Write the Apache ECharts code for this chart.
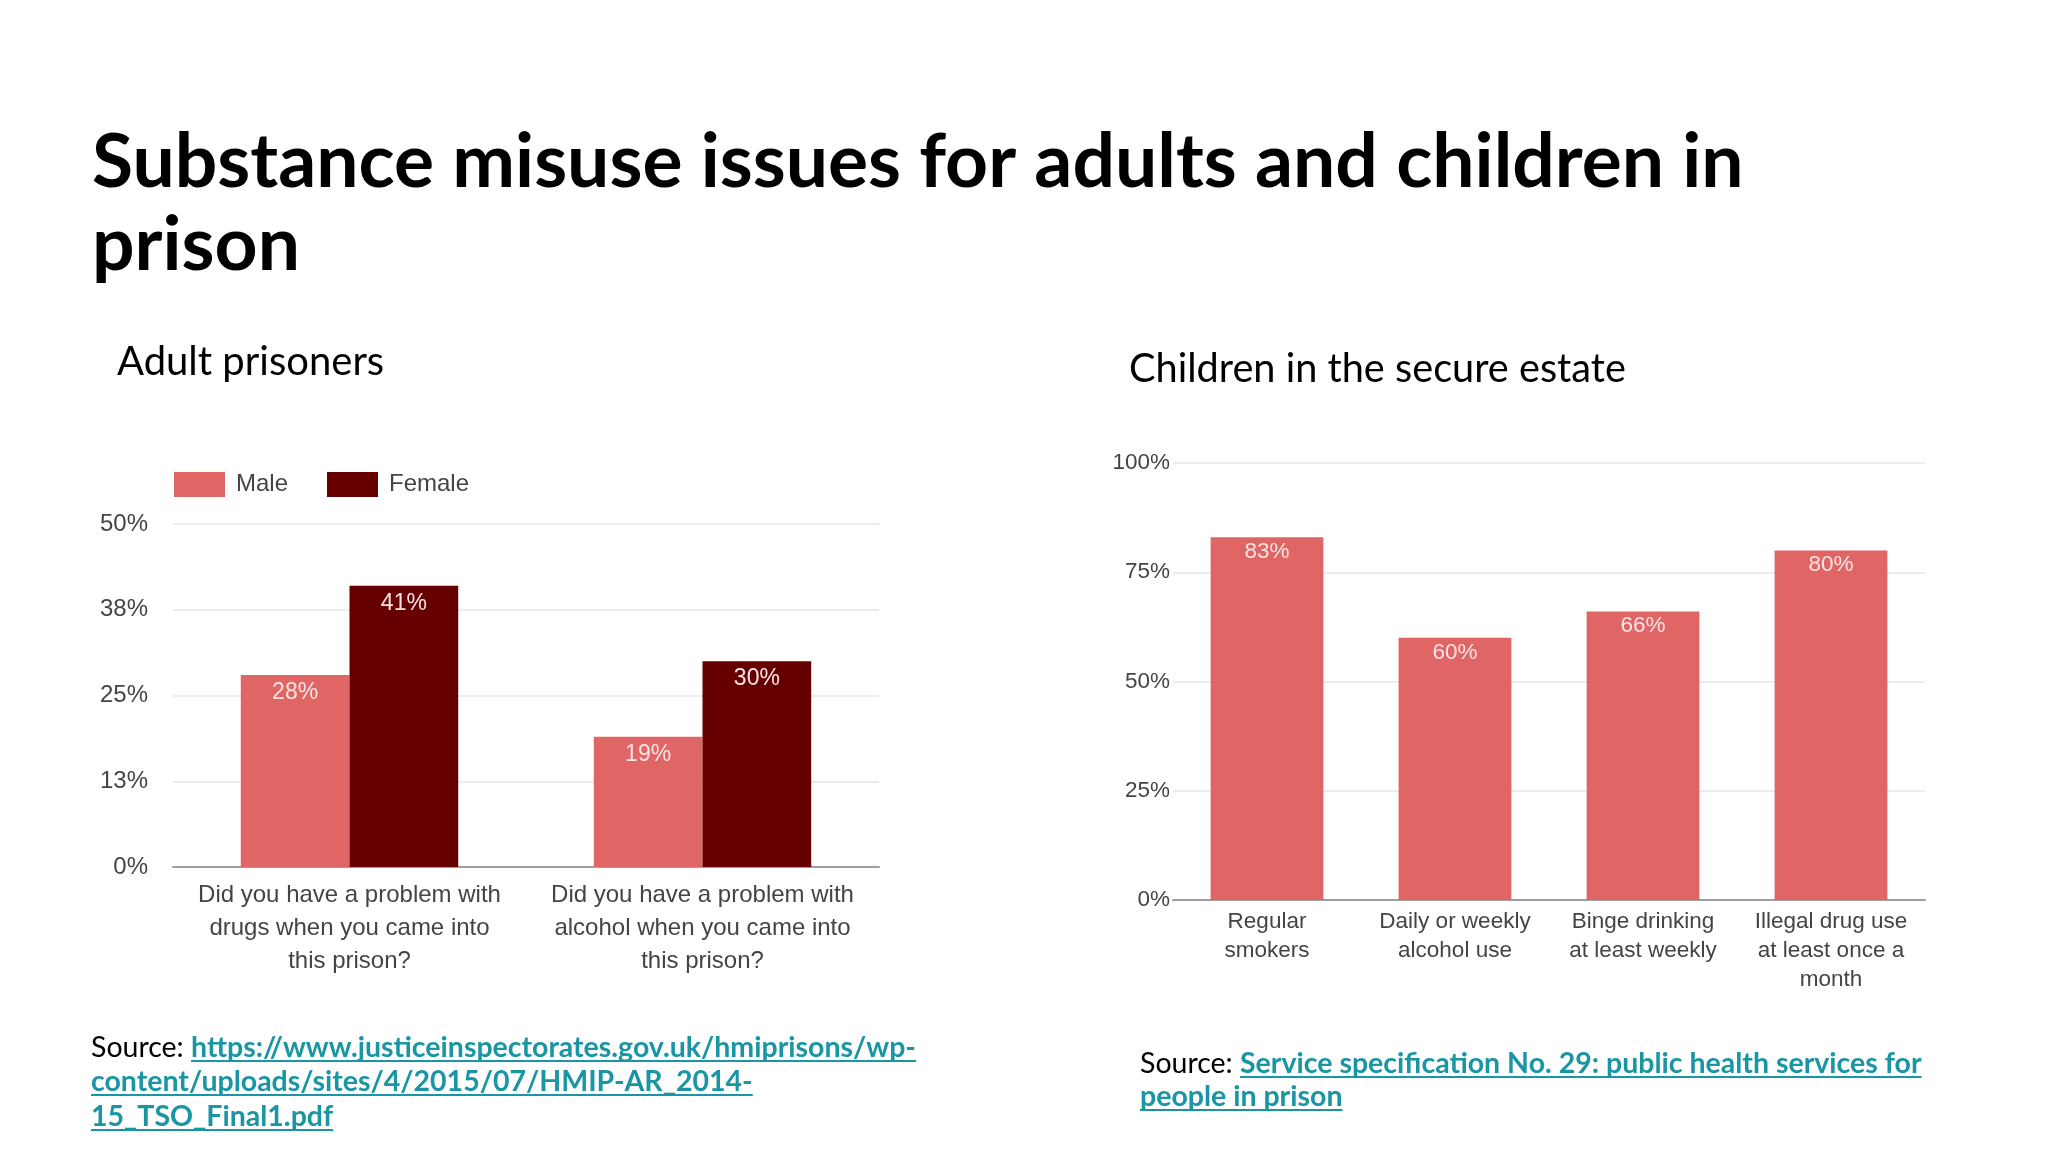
<!DOCTYPE html>
<html>
<head>
<meta charset="utf-8">
<script src="https://cdn.jsdelivr.net/npm/echarts@6/dist/echarts.min.js"></script>
<style>
html,body{margin:0;padding:0;background:#fff;}
#main{width:2048px;height:1152px;}
</style>
</head>
<body>
<div id="main"></div>
<script>
// ---- Data ----
const adultCategories = [
  'Did you have a problem with\ndrugs when you came into\nthis prison?',
  'Did you have a problem with\nalcohol when you came into\nthis prison?'
];
const maleValues = [28, 19];
const femaleValues = [41, 30];
const seriesNames = ['Male', 'Female'];

const childCategories = [
  'Regular\nsmokers',
  'Daily or weekly\nalcohol use',
  'Binge drinking\nat least weekly',
  'Illegal drug use\nat least once a\nmonth'
];
const childValues = [83, 60, 66, 80];

const titleLines = ['Substance misuse issues for adults and children in', 'prison'];
const leftSubtitle = 'Adult prisoners';
const rightSubtitle = 'Children in the secure estate';
const leftSourceLines = [
  'https://www.justiceinspectorates.gov.uk/hmiprisons/wp-',
  'content/uploads/sites/4/2015/07/HMIP-AR_2014-',
  '15_TSO_Final1.pdf'
];
const rightSourceLines = [
  'Service specification No. 29: public health services for',
  'people in prison'
];

// ---- Styling ----
const MALE = '#e06666', FEMALE = '#660000';
const LINK = '#1995a3';
const labelColor = '#444444';
const chartFont = '"Liberation Sans", Arial, sans-serif';

const cv = document.createElement('canvas');
const ctx = cv.getContext('2d');
function tw(text, font) { ctx.font = font; return ctx.measureText(text).width; }

const srcSize = 28.5;
const srcFont = srcSize + 'px Lato';
const linkFont = 'bold ' + srcSize + 'px Lato';

function sourceBlock(x0, yMids, lines) {
  const els = [];
  const prefix = 'Source: ';
  const pw = tw(prefix, srcFont);
  lines.forEach((ln, i) => {
    const y = yMids[i];
    let lx = x0;
    if (i === 0) {
      els.push({type:'text', style:{text:prefix, x:x0, y:y, font:srcFont, fill:'#000', align:'left', verticalAlign:'middle'}});
      lx = x0 + pw;
    }
    els.push({type:'text', style:{text:ln, x:lx, y:y, font:linkFont, fill:LINK, align:'left', verticalAlign:'middle'}});
    const w = tw(ln, linkFont);
    els.push({type:'rect', shape:{x:lx, y:y + 12, width:w, height:2}, style:{fill:LINK}});
  });
  return els;
}

const graphics = [
  {type:'text', style:{text:titleLines[0], x:92, y:163, font:'bold 75px Lato', fill:'#000', align:'left', verticalAlign:'middle'}},
  {type:'text', style:{text:titleLines[1], x:92, y:246, font:'bold 75px Lato', fill:'#000', align:'left', verticalAlign:'middle'}},
  {type:'text', style:{text:leftSubtitle, x:117, y:362, font:'40px Lato', fill:'#000', align:'left', verticalAlign:'middle'}},
  {type:'text', style:{text:rightSubtitle, x:1129, y:369, font:'39.7px Lato', fill:'#000', align:'left', verticalAlign:'middle'}}
].concat(
  sourceBlock(91, [1048, 1082, 1117], leftSourceLines),
  sourceBlock(1140, [1064, 1097], rightSourceLines)
);

const axisLabelBase = {color: labelColor, fontFamily: chartFont};
const legendText = {color:labelColor, fontSize:24, fontFamily:chartFont, padding:[0,0,0,6]};
const barLabel = (size, dist) => ({show:true, position:'insideTop', distance:dist, color:'#fde4e4', fontSize:size, fontFamily:chartFont, formatter:'{c}%'});

const option = {
  animation: false,
  backgroundColor: '#fff',
  graphic: graphics,
  legend: [
    {data:[seriesNames[0]], left:169, top:467, itemWidth:51, itemHeight:25, icon:'rect', textStyle:legendText},
    {data:[seriesNames[1]], left:322, top:467, itemWidth:51, itemHeight:25, icon:'rect', textStyle:legendText}
  ],
  grid: [
    {left:173, top:524, width:706, height:343},
    {left:1173, top:463, width:752, height:437}
  ],
  xAxis: [
    {type:'category', gridIndex:0, data:adultCategories,
     axisLine:{lineStyle:{color:'#9e9e9e', width:2}}, axisTick:{show:false},
     axisLabel:Object.assign({}, axisLabelBase, {fontSize:24, lineHeight:33, margin:12, interval:0})},
    {type:'category', gridIndex:1, data:childCategories,
     axisLine:{lineStyle:{color:'#9e9e9e', width:2}}, axisTick:{show:false},
     axisLabel:Object.assign({}, axisLabelBase, {fontSize:22.5, lineHeight:29, margin:7, interval:0})}
  ],
  yAxis: [
    {type:'value', gridIndex:0, min:0, max:50, interval:12.5,
     axisLine:{show:false}, axisTick:{show:false},
     splitLine:{lineStyle:{color:'#e6e6e6', width:1.5}},
     axisLabel:Object.assign({}, axisLabelBase, {fontSize:24, margin:25, formatter:v => Math.round(v) + '%'})},
    {type:'value', gridIndex:1, min:0, max:100, interval:25,
     axisLine:{show:false}, axisTick:{show:false},
     splitLine:{lineStyle:{color:'#e6e6e6', width:1.5}},
     axisLabel:Object.assign({}, axisLabelBase, {fontSize:22.5, margin:3, formatter:v => v + '%'})}
  ],
  series: [
    {name:seriesNames[0], type:'bar', xAxisIndex:0, yAxisIndex:0, data:maleValues,
     barWidth:'30.8%', barGap:'0%', itemStyle:{color:MALE}, label:barLabel(23, 6)},
    {name:seriesNames[1], type:'bar', xAxisIndex:0, yAxisIndex:0, data:femaleValues,
     barWidth:'30.8%', barGap:'0%', itemStyle:{color:FEMALE}, label:barLabel(23, 6)},
    {name:'Children', type:'bar', xAxisIndex:1, yAxisIndex:1, data:childValues,
     barWidth:'60%', itemStyle:{color:MALE}, label:barLabel(22.5, 3)}
  ]
};

const chart = echarts.init(document.getElementById('main'), null, {renderer:'canvas'});
chart.setOption(option);
</script>
</body>
</html>
